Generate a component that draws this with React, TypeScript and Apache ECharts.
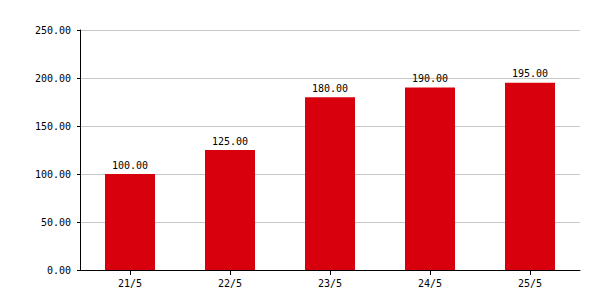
import React, { useEffect, useRef } from "react";
import * as echarts from "echarts";

const categories = ["21/5", "22/5", "23/5", "24/5", "25/5"];
const values = [100, 125, 180, 190, 195];

const FONT = "DejaVu Sans Mono";

export default function App() {
  const ref = useRef<HTMLDivElement>(null);
  useEffect(() => {
    const chart = echarts.init(ref.current!, null, { renderer: "svg" });
    chart.setOption({
      animation: false,
      backgroundColor: "#ffffff",
      grid: { left: 80, right: 20, top: 30, bottom: 30, containLabel: false },
      xAxis: {
        type: "category",
        data: categories,
        axisLine: { lineStyle: { color: "#000", width: 1 } },
        axisTick: { show: true, alignWithLabel: true, length: 5, lineStyle: { color: "#000" } },
        axisLabel: { color: "#000", fontFamily: FONT, fontSize: 10, margin: 8 },
      },
      yAxis: {
        type: "value",
        min: 0,
        max: 250,
        interval: 50,
        axisLine: { show: true, lineStyle: { color: "#000", width: 1 } },
        axisTick: { show: true, length: 3, lineStyle: { color: "#000" } },
        axisLabel: {
          color: "#000",
          fontFamily: FONT,
          fontSize: 10,
          margin: 9,
          formatter: (v: number) => v.toFixed(2),
        },
        splitLine: { show: true, lineStyle: { color: "#c8c8c8", width: 1 } },
      },
      series: [
        {
          type: "bar",
          data: values,
          barWidth: "50%",
          itemStyle: { color: "#d9000e" },
          label: {
            show: true,
            position: "top",
            distance: 4,
            color: "#000",
            fontFamily: FONT,
            fontSize: 10,
            formatter: (p: any) => Number(p.value).toFixed(2),
          },
        },
      ],
    });
    return () => chart.dispose();
  }, []);
  return <div ref={ref} style={{ width: 600, height: 300, position: "absolute", left: 0, top: 0 }} />;
}
